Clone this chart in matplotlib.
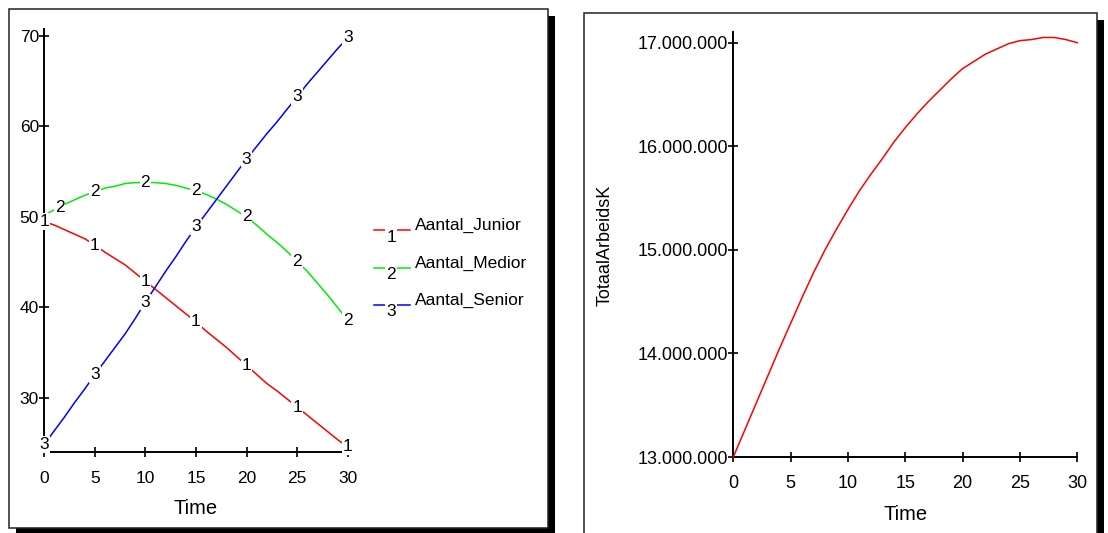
import numpy as np
import matplotlib
matplotlib.use('Agg')
import matplotlib.pyplot as plt
from matplotlib.patches import Rectangle
from matplotlib.lines import Line2D
from matplotlib.ticker import FuncFormatter

plt.rcParams['font.family'] = ['Liberation Sans', 'DejaVu Sans']

# ---------------- data ----------------
time = list(range(31))
aantal_junior = [49.5, 49.1, 48.6, 48.1, 47.6, 46.9, 46.1, 45.4, 44.7, 43.8,
                 42.9, 42.0, 41.1, 40.2, 39.3, 38.4, 37.4, 36.5, 35.6, 34.6,
                 33.6, 32.6, 31.6, 30.8, 29.9, 29.0, 28.1, 27.2, 26.3, 25.4, 24.6]
aantal_medior = [50.2, 50.8, 51.4, 51.9, 52.4, 52.8, 53.2, 53.4, 53.7, 53.8,
                 53.8, 53.8, 53.7, 53.5, 53.2, 52.9, 52.5, 52.0, 51.4, 50.7,
                 50.0, 49.1, 48.1, 47.2, 46.2, 45.1, 44.0, 42.7, 41.4, 40.0, 38.6]
aantal_senior = [24.9, 26.4, 27.9, 29.5, 31.0, 32.6, 34.1, 35.6, 37.1, 38.8,
                 40.6, 42.3, 44.0, 45.6, 47.3, 48.9, 50.4, 51.9, 53.4, 54.9,
                 56.4, 57.8, 59.2, 60.5, 61.9, 63.3, 64.7, 66.0, 67.3, 68.6, 69.8]
totaal_arbeidsk = [13000000, 13260000, 13520000, 13780000, 14040000, 14290000,
                   14540000, 14780000, 15000000, 15200000, 15390000, 15570000,
                   15730000, 15880000, 16040000, 16180000, 16310000, 16430000,
                   16540000, 16650000, 16750000, 16820000, 16890000, 16940000,
                   16990000, 17020000, 17030000, 17050000, 17050000, 17030000,
                   17000000]

series_names = ['Aantal_Junior', 'Aantal_Medior', 'Aantal_Senior']
series_ids = ['1', '2', '3']
series_colors = ['#ff0000', '#00ee00', '#0000ff']
label_times = [[0, 5, 10, 15, 20, 25, 30],
               [1.5, 5, 10, 15, 20, 25, 30],
               [0, 5, 10, 15, 20, 25, 30]]

x_ticks = [0, 5, 10, 15, 20, 25, 30]
left_y_ticks = [30, 40, 50, 60, 70]
right_y_ticks = [13000000, 14000000, 15000000, 16000000, 17000000]

# ---------------- figure ----------------
W, H = 1108, 533
fig = plt.figure(figsize=(W / 100, H / 100), dpi=100)


def fx(x):
    return x / W


def fy(y):
    return 1 - y / H


def panel(x0, y0, x1, y1):
    fig.add_artist(Rectangle((fx(x0 + 7), fy(y1 + 7)), (x1 - x0) / W, (y1 - y0) / H,
                             transform=fig.transFigure, facecolor='black',
                             edgecolor='none', zorder=-3))
    fig.add_artist(Rectangle((fx(x0), fy(y1)), (x1 - x0) / W, (y1 - y0) / H,
                             transform=fig.transFigure, facecolor='white',
                             edgecolor='#222222', lw=1.1, zorder=-2))


panel(9.3, 9.3, 548.3, 528.0)
panel(584.3, 12.7, 1097.3, 545.0)

TICK_FS = 12.5


def style_axes(ax, fs):
    ax.set_facecolor('none')
    for s in ['top', 'right']:
        ax.spines[s].set_visible(False)
    for s in ['left', 'bottom']:
        ax.spines[s].set_linewidth(1.4)
        ax.spines[s].set_color('black')
    ax.tick_params(direction='inout', length=6.5, width=1.2, labelsize=fs,
                   colors='black')
    ax.tick_params(axis='x', pad=10)
    ax.tick_params(axis='y', pad=0.5)
    ax.set_xlim(0, 30)
    ax.set_xticks(x_ticks)


# ---------------- left panel ----------------
axL = fig.add_axes([44.3 / W, fy(452.3), 303.4 / W, 423.0 / H])
style_axes(axL, TICK_FS)
axL.set_ylim(24, 70.74)
axL.set_yticks(left_y_ticks)

all_series = [aantal_junior, aantal_medior, aantal_senior]
for vals, sid, col, lts in zip(all_series, series_ids, series_colors, label_times):
    axL.plot(time, vals, color=col, lw=1.1, zorder=3, clip_on=False)
    for t in lts:
        v = float(np.interp(t, time, vals))
        axL.text(t, v, sid, ha='center', va='center', fontsize=TICK_FS, zorder=5,
                 bbox=dict(facecolor='white', edgecolor='none', pad=0.6))

axL.set_xlabel('Time', fontsize=14.5, va='center')
axL.xaxis.set_label_coords(0.5, -(508.0 - 452.3) / 423.0)

# legend drawn by hand
leg_y = [230.0, 267.7, 305.0]
for i, (name, sid, col) in enumerate(zip(series_names, series_ids, series_colors)):
    y = leg_y[i]
    fig.add_artist(Line2D([fx(374), fx(410)], [fy(y), fy(y)], color=col, lw=1.1,
                          transform=fig.transFigure, zorder=3))
    fig.text(fx(391), fy(y + 7), sid, ha='center', va='center', fontsize=TICK_FS,
             zorder=5, bbox=dict(facecolor='white', edgecolor='none', pad=0.6))
    fig.text(fx(415), fy(y - 4.5), name, ha='left', va='center', fontsize=TICK_FS,
             zorder=5)

# ---------------- right panel ----------------
axR = fig.add_axes([733.3 / W, fy(457.0), 344.0 / W, 425.3 / H])
style_axes(axR, 13)
axR.set_ylim(13000000, 17106000)
axR.set_yticks(right_y_ticks)
axR.yaxis.set_major_formatter(FuncFormatter(lambda v, p: f"{int(round(v)):,}".replace(',', '.')))
axR.plot(time, totaal_arbeidsk, color='#ff0000', lw=1.1, zorder=3, clip_on=False)

axR.set_xlabel('Time', fontsize=14.5, va='center')
axR.xaxis.set_label_coords(0.5, -(514.0 - 457.0) / 425.3)
axR.set_ylabel('TotaalArbeidsK', fontsize=13, va='center')
axR.yaxis.set_label_coords((605.3 - 733.3) / 344.0, (457.0 - 245.0) / 425.3)

fig.savefig('out.png', dpi=100)
